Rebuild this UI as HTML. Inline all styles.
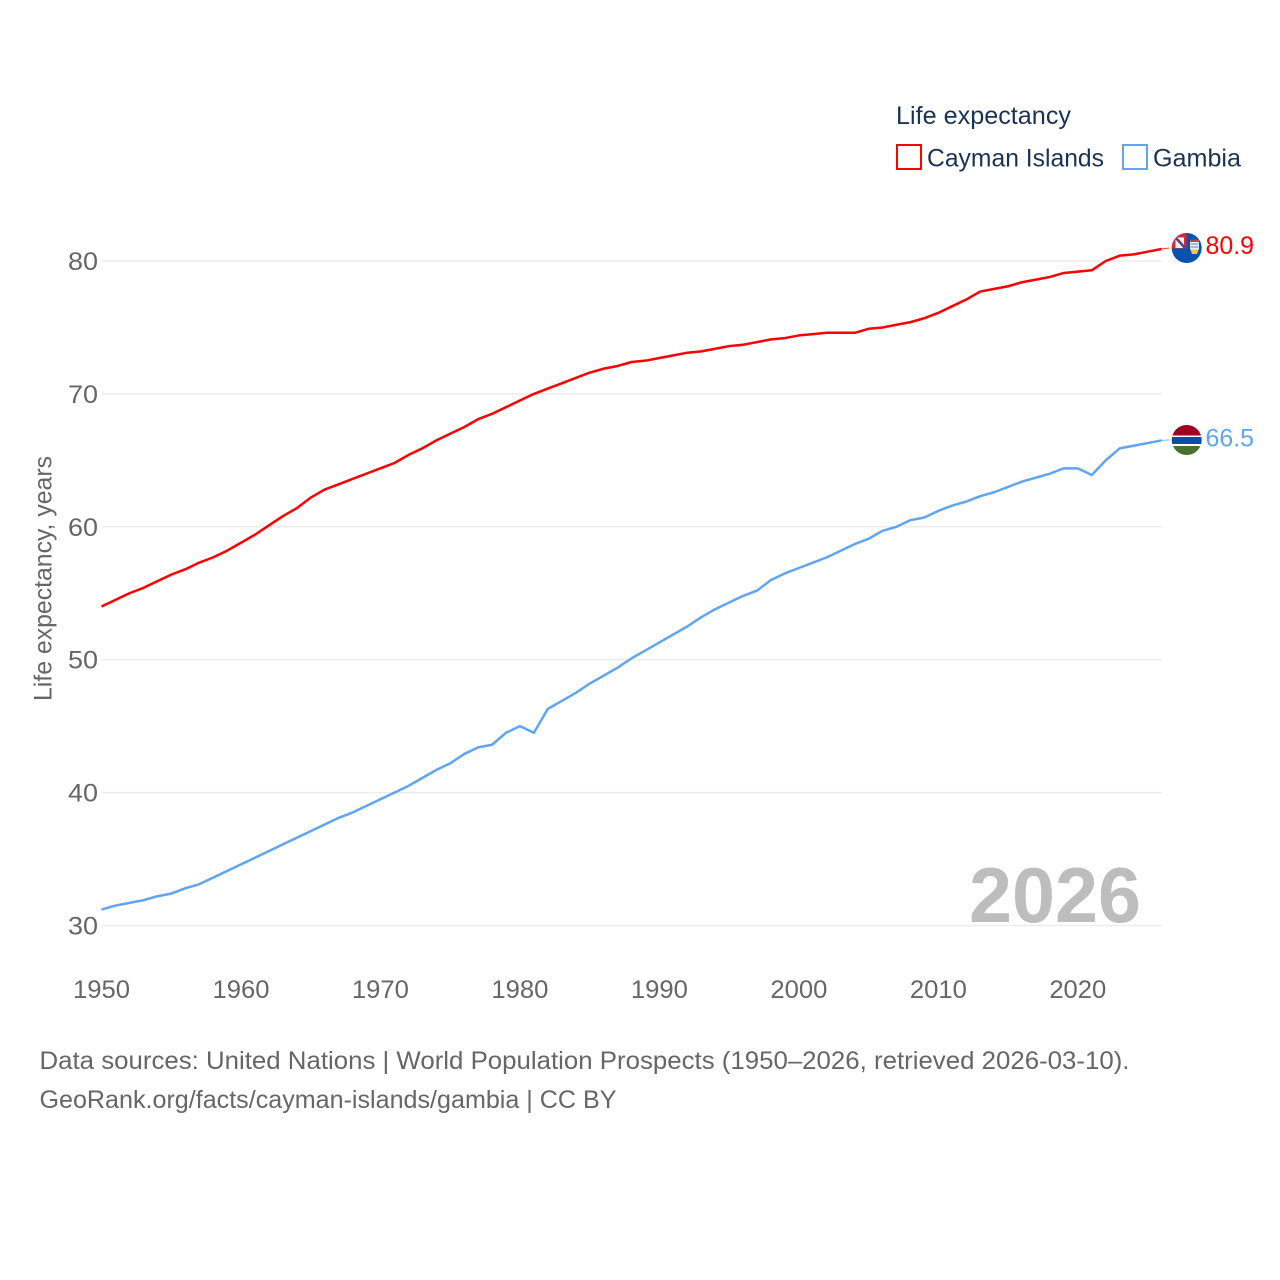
<!DOCTYPE html>
<html lang="en">
<head>
<meta charset="utf-8">
<title>Life expectancy: Cayman Islands and Gambia</title>
<style>
html,body{margin:0;padding:0;background:#fff;}
svg{display:block;font-family:"Liberation Sans",sans-serif;}
</style>
</head>
<body>
<svg id="chart" xmlns="http://www.w3.org/2000/svg" width="1280" height="1280" viewBox="0 0 1280 1280">
  <rect width="1280" height="1280" fill="#fff"/>
  <g id="grid"></g>
  <g id="yticks"></g>
  <g id="xticks"></g>
  <text transform="translate(51.5 701) rotate(-90)" font-size="25" fill="#666" textLength="245" lengthAdjust="spacingAndGlyphs">Life expectancy, years</text>
  <text x="969" y="922" font-size="78" font-weight="700" fill="#bdbdbd" textLength="172" lengthAdjust="spacingAndGlyphs">2026</text>
  <g id="series"></g>

  <g>
    <text x="896" y="124" font-size="25" fill="#1a3354" textLength="175" lengthAdjust="spacingAndGlyphs">Life expectancy</text>
    <g>
      <rect x="897" y="145" width="24" height="24" fill="#fff" stroke="#ff0000" stroke-width="2"/>
      <text x="927" y="166.500" font-size="25" fill="#1a3354" textLength="177" lengthAdjust="spacingAndGlyphs">Cayman Islands</text>
    </g>
    <g>
      <rect x="1123" y="145" width="24" height="24" fill="#fff" stroke="#60a5ef" stroke-width="2"/>
      <text x="1153" y="166.500" font-size="25" fill="#1a3354" textLength="88" lengthAdjust="spacingAndGlyphs">Gambia</text>
    </g>
  </g>

  <defs>
    <clipPath id="flag-clip-a"><circle cx="1186.700" cy="248" r="15"/></clipPath>
    <clipPath id="flag-clip-b"><circle cx="1186.700" cy="440" r="15"/></clipPath>
  </defs>
  <g clip-path="url(#flag-clip-a)">
    <rect x="1171" y="233" width="32" height="31" fill="#0a52ae"/>
    <rect x="1171" y="233" width="15.500" height="15.500" fill="#d8283c"/>
    <path d="M1175.500 237.500h8.500v10.500h-8.500z" fill="#f2f2f6"/>
    <path d="M1176 238L1185 248" stroke="#1a4ea0" stroke-width="2.500"/>
    <path d="M1176 238L1185 248" stroke="#d8283c" stroke-width="0.800"/>
    <rect x="1190" y="239.500" width="9" height="2.500" fill="#c8404c"/>
    <rect x="1190" y="242" width="9" height="7.500" fill="#e9eef4"/>
    <path d="M1190.500 244h8M1190.500 247h8" stroke="#5b86c4" stroke-width="1"/>
    <path d="M1190.500 249.500h8l-1.500 4.500h-5z" fill="#f0c840"/>
  </g>
  <g clip-path="url(#flag-clip-b)">
    <rect x="1171" y="425" width="32" height="10.500" fill="#a00021"/>
    <rect x="1171" y="435.500" width="32" height="1.500" fill="#fff"/>
    <rect x="1171" y="437" width="32" height="7" fill="#0c4ca4"/>
    <rect x="1171" y="444" width="32" height="2" fill="#fff"/>
    <rect x="1171" y="446" width="32" height="10" fill="#4a702f"/>
  </g>

  <text x="1205.500" y="254" font-size="25" fill="#ff0000" textLength="48.500" lengthAdjust="spacingAndGlyphs">80.9</text>
  <text x="1205.500" y="446.500" font-size="25" fill="#60a5ef" textLength="48.500" lengthAdjust="spacingAndGlyphs">66.5</text>

  <text x="39.500" y="1069" font-size="25" fill="#666" textLength="1090" lengthAdjust="spacingAndGlyphs">Data sources: United Nations | World Population Prospects (1950–2026, retrieved 2026-03-10).</text>
  <text x="39.500" y="1108" font-size="25" fill="#666" textLength="577" lengthAdjust="spacingAndGlyphs">GeoRank.org/facts/cayman-islands/gambia | CC BY</text>
</svg>
<script>
const years = [1950,1951,1952,1953,1954,1955,1956,1957,1958,1959,1960,1961,1962,1963,1964,1965,1966,1967,1968,1969,1970,1971,1972,1973,1974,1975,1976,1977,1978,1979,1980,1981,1982,1983,1984,1985,1986,1987,1988,1989,1990,1991,1992,1993,1994,1995,1996,1997,1998,1999,2000,2001,2002,2003,2004,2005,2006,2007,2008,2009,2010,2011,2012,2013,2014,2015,2016,2017,2018,2019,2020,2021,2022,2023,2024,2025,2026];
const caymanIslands = [54.0,54.5,55.0,55.4,55.9,56.4,56.8,57.3,57.7,58.2,58.8,59.4,60.1,60.8,61.4,62.2,62.8,63.2,63.6,64.0,64.4,64.8,65.4,65.9,66.5,67.0,67.5,68.1,68.5,69.0,69.5,70.0,70.4,70.8,71.2,71.6,71.9,72.1,72.4,72.5,72.7,72.9,73.1,73.2,73.4,73.6,73.7,73.9,74.1,74.2,74.4,74.5,74.6,74.6,74.6,74.9,75.0,75.2,75.4,75.7,76.1,76.6,77.1,77.7,77.9,78.1,78.4,78.6,78.8,79.1,79.2,79.3,80.0,80.4,80.5,80.7,80.9];
const gambia = [31.2,31.5,31.7,31.9,32.2,32.4,32.8,33.1,33.6,34.1,34.6,35.1,35.6,36.1,36.6,37.1,37.6,38.1,38.5,39.0,39.5,40.0,40.5,41.1,41.7,42.2,42.9,43.4,43.6,44.5,45.0,44.5,46.3,46.9,47.5,48.2,48.8,49.4,50.1,50.7,51.3,51.9,52.5,53.2,53.8,54.3,54.8,55.2,56.0,56.5,56.9,57.3,57.7,58.2,58.7,59.1,59.7,60.0,60.5,60.7,61.2,61.6,61.9,62.3,62.6,63.0,63.4,63.7,64.0,64.4,64.4,63.9,65.0,65.9,66.1,66.3,66.5];
const yTickValues = [30,40,50,60,70,80];
const xTickValues = [1950,1960,1970,1980,1990,2000,2010,2020];

const SVG_NS = 'http://www.w3.org/2000/svg';
function xScale(year){ return 101.5 + (year - 1950) * (1161.5 - 101.5) / (2026 - 1950); }
function yScale(value){ return 925.5 - (value - 30) * (925.5 - 261) / (80 - 30); }

const gridGroup = document.getElementById('grid');
const yTickGroup = document.getElementById('yticks');
const xTickGroup = document.getElementById('xticks');
const seriesGroup = document.getElementById('series');

yTickValues.forEach(function(v){
  const line = document.createElementNS(SVG_NS, 'line');
  
  
  line.setAttribute('x1', xScale(1950));
  line.setAttribute('x2', xScale(2026));
  line.setAttribute('y1', yScale(v));
  line.setAttribute('y2', yScale(v));
  line.setAttribute('stroke', '#ececec');
  line.setAttribute('stroke-width', '1.5');
  gridGroup.appendChild(line);

  const label = document.createElementNS(SVG_NS, 'text');
  
  
  label.setAttribute('x', 68);
  label.setAttribute('y', yScale(v) + 9);
  label.setAttribute('font-size', '25');
  label.setAttribute('fill', '#666');
  label.setAttribute('textLength', '30');
  label.setAttribute('lengthAdjust', 'spacingAndGlyphs');
  label.textContent = String(v);
  yTickGroup.appendChild(label);
});

xTickValues.forEach(function(v){
  const label = document.createElementNS(SVG_NS, 'text');
  
  
  label.setAttribute('x', xScale(v) - 28.5);
  label.setAttribute('y', 998);
  label.setAttribute('font-size', '25');
  label.setAttribute('fill', '#666');
  label.setAttribute('textLength', '57');
  label.setAttribute('lengthAdjust', 'spacingAndGlyphs');
  label.textContent = String(v);
  xTickGroup.appendChild(label);
});

function toPath(values){
  return values.map(function(v, i){
    return (i ? 'L' : 'M') + xScale(years[i]).toFixed(2) + ' ' + yScale(v).toFixed(2);
  }).join(' ');
}

const caymanLine = document.createElementNS(SVG_NS, 'path');


caymanLine.setAttribute('d', toPath(caymanIslands));
caymanLine.setAttribute('fill', 'none');
caymanLine.setAttribute('stroke', '#ff0000');
caymanLine.setAttribute('stroke-width', '2.5');
caymanLine.setAttribute('stroke-linejoin', 'round');
seriesGroup.appendChild(caymanLine);

const gambiaLine = document.createElementNS(SVG_NS, 'path');


gambiaLine.setAttribute('d', toPath(gambia));
gambiaLine.setAttribute('fill', 'none');
gambiaLine.setAttribute('stroke', '#60a5ef');
gambiaLine.setAttribute('stroke-width', '2.5');
gambiaLine.setAttribute('stroke-linejoin', 'round');
seriesGroup.appendChild(gambiaLine);

const caymanLeader = document.createElementNS(SVG_NS, 'line');


caymanLeader.setAttribute('x1', xScale(2026));
caymanLeader.setAttribute('x2', 1169);
caymanLeader.setAttribute('y1', yScale(caymanIslands[caymanIslands.length - 1]));
caymanLeader.setAttribute('y2', 248);
caymanLeader.setAttribute('stroke', '#ff0000');
caymanLeader.setAttribute('stroke-width', '1');
caymanLeader.setAttribute('stroke-opacity', '0.8');
seriesGroup.appendChild(caymanLeader);

const gambiaLeader = document.createElementNS(SVG_NS, 'line');


gambiaLeader.setAttribute('x1', xScale(2026));
gambiaLeader.setAttribute('x2', 1169);
gambiaLeader.setAttribute('y1', yScale(gambia[gambia.length - 1]));
gambiaLeader.setAttribute('y2', 440);
gambiaLeader.setAttribute('stroke', '#60a5ef');
gambiaLeader.setAttribute('stroke-width', '1');
gambiaLeader.setAttribute('stroke-opacity', '0.8');
seriesGroup.appendChild(gambiaLeader);
</script>
</body>
</html>
